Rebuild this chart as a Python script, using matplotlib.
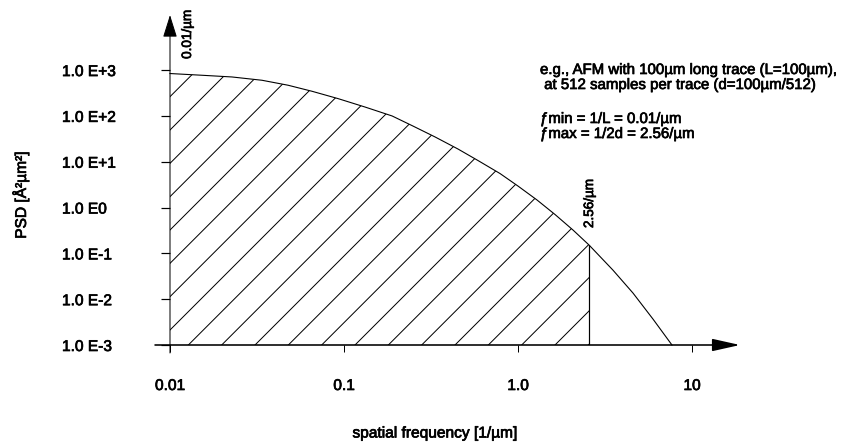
import matplotlib
matplotlib.use("Agg")
import matplotlib.pyplot as plt
import matplotlib.patheffects as pe

# ---- data ----
freq = [0.01, 0.01528, 0.0227, 0.0338, 0.0477, 0.0655, 0.0924, 0.132, 0.189,
        0.249, 0.334, 0.452, 0.589, 0.788, 1.0, 1.286, 1.633, 2.07, 2.56,
        3.51, 4.58, 5.97, 7.67]
psd = [839, 769, 706, 598, 466, 344, 238, 156, 99.5,
       60, 34.6, 18.9, 10.6, 5.52, 2.94, 1.46, 0.703, 0.323, 0.152,
       0.0432, 0.0136, 0.00367, 0.001]
fmin = 0.01
fmax = 2.56
x_ticks = [0.01, 0.1, 1.0, 10]
x_ticklabels = ["0.01", "0.1", "1.0", "10"]
y_ticks = [1e3, 1e2, 1e1, 1e0, 1e-1, 1e-2, 1e-3]
y_ticklabels = ["1.0 E+3", "1.0 E+2", "1.0 E+1", "1.0 E0", "1.0 E-1", "1.0 E-2", "1.0 E-3"]
note_lines = ["e.g., AFM with 100µm long trace (L=100µm),",
              " at 512 samples per trace (d=100µm/512)",
              "",
              "ƒmin = 1/L = 0.01/µm",
              "ƒmax = 1/2d = 2.56/µm"]

DPI = 200
W, H = 849, 443
PT = 72.0 / DPI  # points per pixel

plt.rcParams['font.family'] = ['Liberation Sans', 'DejaVu Sans']
plt.rcParams['hatch.linewidth'] = 1.0 * PT

heavy = [pe.withStroke(linewidth=0.7 * PT, foreground='black')]

fig = plt.figure(figsize=(W / DPI, H / DPI), dpi=DPI)
# axes: x 170..740 px, y 345 (bottom) .. 15 (top)
ax = fig.add_axes([170 / W, 1 - 345 / H, (740 - 170) / W, (345 - 15) / H])
ax.set_xscale('log')
ax.set_yscale('log')
ax.set_xlim(0.01, 10 ** (-2 + (740 - 170) / 174.0))
ax.set_ylim(1e-3, 10 ** (3 + (70 - 15) / 45.8))
ax.patch.set_alpha(0)
for s in ax.spines.values():
    s.set_visible(False)

fs_tick = 15.5 * PT
fs_note = 15.0 * PT
fs_rot = 13.5 * PT

# curve
ax.plot(freq, psd, color='black', lw=1.1 * PT, clip_on=False)
# hatched area up to fmax
k = freq.index(fmax) + 1
ax.fill_between(freq[:k], psd[:k], 1e-3, facecolor='none', edgecolor='black',
                hatch='//', linewidth=0)
# vertical line at fmax
ax.vlines(fmax, 1e-3, psd[k - 1], color='black', lw=1.2 * PT)

# axes arrows
ax.annotate('', xy=(1.0, 0), xytext=(-15 / 570, 0), xycoords='axes fraction',
            arrowprops=dict(arrowstyle='-|>,head_length=0.85,head_width=0.19',
                            mutation_scale=10, color='black', lw=1.6 * PT,
                            shrinkA=0, shrinkB=0))
ax.annotate('', xy=(0, 1.0), xytext=(0, -8 / 330), xycoords='axes fraction',
            arrowprops=dict(arrowstyle='-|>,head_length=0.7,head_width=0.22',
                            mutation_scale=10, color='black', lw=1.0 * PT,
                            shrinkA=0, shrinkB=0))

# ticks
ax.set_xticks(x_ticks)
ax.set_xticklabels(x_ticklabels)
ax.set_yticks(y_ticks)
ax.set_yticklabels(y_ticklabels)
ax.minorticks_off()
ax.tick_params(axis='x', direction='out', length=7 * PT, width=1.0 * PT,
               pad=26 * PT, labelsize=fs_tick)
ax.tick_params(axis='y', direction='out', length=9 * PT, width=1.2 * PT,
               pad=(108 - 9) * PT, labelsize=fs_tick)
for lab in ax.get_yticklabels():
    lab.set_horizontalalignment('left')
    lab.set_path_effects(heavy)
for lab in ax.get_xticklabels():
    lab.set_path_effects(heavy)

# axis labels
fig.text(435 / W, 1 - 433 / H, "spatial frequency [1/µm]", ha='center', va='center',
         fontsize=fs_tick, path_effects=heavy)
fig.text(20 / W, 1 - 195 / H, "PSD [Å²µm²]", ha='center', va='center',
         rotation=90, fontsize=fs_tick, path_effects=heavy)

# rotated annotations
ax.annotate(f"{fmin:.2f}/µm", xy=(fmin, ax.get_ylim()[1]), xycoords='data',
            xytext=(17 * PT, 5 * PT), textcoords='offset points',
            rotation=90, ha='center', va='top', fontsize=fs_rot, annotation_clip=False,
            path_effects=heavy)
ax.annotate(f"{fmax:.2f}/µm", xy=(fmax, psd[k - 1]), xycoords='data',
            xytext=(0, 17 * PT), textcoords='offset points',
            rotation=90, ha='center', va='bottom', fontsize=fs_rot,
            path_effects=heavy)

# notes
ys = [70, 85, 102, 119, 134]
xs = [540, 540, 540, 540, 540]
for x, y, t in zip(xs, ys, note_lines):
    if t:
        fig.text(x / W, 1 - y / H, t, ha='left', va='center', fontsize=fs_note,
                 path_effects=heavy)

fig.savefig("out.png", dpi=DPI)
